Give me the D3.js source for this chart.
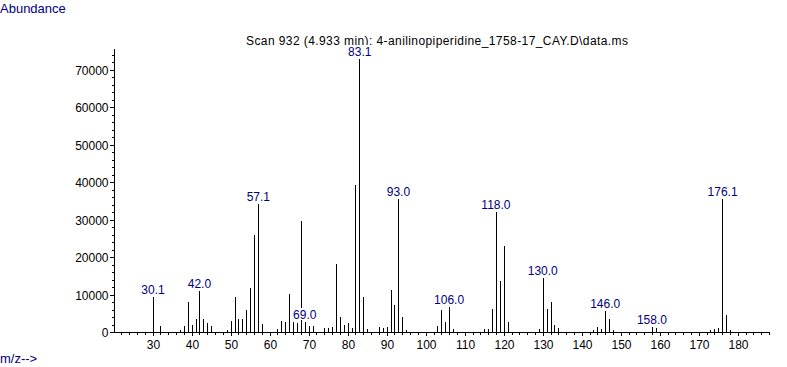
<!DOCTYPE html>
<html lang="en">
<head>
<meta charset="UTF-8">
<title>Scan 932 - 4-anilinopiperidine</title>
<script src="https://d3js.org/d3.v7.min.js"></script>
<style>
  body { margin: 0; background: #fff; font-family: 'Liberation Sans', Arial, sans-serif; }
  text { font-family: 'Liberation Sans', Arial, sans-serif; }
  .axis path, .axis line { stroke: #000; shape-rendering: crispEdges; }
  .axis text { font-size: 12px; fill: #000; }
</style>
</head>
<body>
<div id="chart"></div>
<script>
  // spectrum: m/z and abundance
  const mz = [30, 32, 37, 38, 39, 40, 41, 42, 43, 44, 45, 49, 50, 51, 52, 53, 54, 55, 56, 57, 58,
    62, 63, 64, 65, 66, 67, 68, 69, 70, 71, 74, 75, 76, 77, 78, 79, 80, 81, 82, 83, 84, 85,
    88, 89, 90, 91, 92, 93, 94, 95, 103, 104, 105, 106, 107, 115, 116, 117, 118, 119, 120, 121,
    129, 130, 131, 132, 133, 134, 143, 144, 145, 146, 147, 148, 158, 159, 173, 174, 175, 176, 177, 178];
  const abundance = [9430, 1600, 530, 1680, 8010, 1870, 3470, 10950, 3470, 2400, 1680, 530, 2940, 9430, 3470, 3470, 5960, 11840, 25900, 34200, 2140,
    720, 2940, 2670, 10150, 2670, 2400, 29700, 2590, 1680, 1680, 990, 990, 1340, 18170, 4090, 2000, 2460, 1150, 39350, 72800, 9430, 800,
    1340, 1150, 1420, 11300, 7210, 35580, 4090, 530, 1680, 5880, 2670, 6760, 800, 800, 800, 6150, 32070, 13700, 23060, 2670,
    720, 14500, 6150, 8100, 1950, 1150, 530, 1420, 800, 5690, 3470, 530, 1420, 990, 530, 800, 1070, 35660, 4540, 530];

  // labelled peaks
  const peakLabels = ["30.1", "42.0", "57.1", "69.0", "83.1", "93.0", "106.0", "118.0", "130.0", "146.0", "158.0", "176.1"];

  const xMajorTicks = d3.range(30, 181, 10);
  const xMinorTicks = d3.range(22, 189, 2);
  const yMajorTicks = d3.range(0, 70001, 10000);
  const yMinorTicks = d3.range(0, 75000, 2000);

  const title = "Scan 932 (4.933 min): 4-anilinopiperidine_1758-17_CAY.D\\data.ms";

  const width = 787, height = 367;
  const navy = "#000080";

  const svg = d3.select("#chart").append("svg")
      .attr("width", width)
      .attr("height", height);

  const x = d3.scaleLinear().domain([20.1, 188.0]).range([114, 769]);
  const y = d3.scaleLinear().domain([0, 75600]).range([332, 49]);

  const px = v => Math.round(x(v)) + 0.5;

  // axes: minor ticks first, then the labelled major ones
  const gx = svg.append("g").attr("class", "axis").attr("transform", "translate(0,331.5)");
  gx.call(d3.axisBottom(x).tickValues(xMinorTicks).tickSize(3).tickSizeOuter(0).tickFormat(""));
  gx.append("g").call(d3.axisBottom(x).tickValues(xMajorTicks).tickSize(4).tickSizeOuter(0).tickFormat(d3.format("d")))
    .call(g => g.select(".domain").remove());
  gx.selectAll(".tick").attr("transform", function(d) { return `translate(${px(d)},0)`; });
  gx.selectAll(".tick text").attr("y", 17).attr("dy", 0);

  const gy = svg.append("g").attr("class", "axis").attr("transform", "translate(114.5,0)");
  gy.call(d3.axisLeft(y).tickValues(yMinorTicks).tickSize(3).tickSizeOuter(0).tickFormat(""));
  gy.append("g").call(d3.axisLeft(y).tickValues(yMajorTicks).tickSize(5).tickSizeOuter(0).tickFormat(d3.format("d")))
    .call(g => g.select(".domain").remove());
  gy.selectAll(".tick").attr("transform", function(d) { return `translate(0,${Math.round(y(d)) + 0.5})`; });
  gy.selectAll(".tick text").attr("x", -6).attr("dy", "0.36em");
  gy.select(".domain").attr("d", `M0,${y.range()[1]}V${y.range()[0]}`);

  // peaks as thin sticks
  const peaks = mz.map((m, i) => ({ mz: m, value: abundance[i] }));
  svg.append("g")
    .selectAll("line")
    .data(peaks)
    .enter().append("line")
      .attr("x1", d => px(d.mz))
      .attr("x2", d => px(d.mz))
      .attr("y1", y(0))
      .attr("y2", d => Math.round(y(d.value)))
      .attr("stroke", "#000")
      .attr("stroke-width", 1)
      .style("shape-rendering", "crispEdges");

  // title (drawn before the peak labels, which sit on white boxes)
  svg.append("text")
    .attr("x", 246)
    .attr("y", 45)
    .attr("textLength", 382)
    .attr("lengthAdjust", "spacing")
    .style("font-size", "12px")
    .style("fill", "#000")
    .text(title);

  const labelG = svg.append("g")
    .selectAll("g")
    .data(peakLabels)
    .enter().append("g");

  labelG.each(function(lbl) {
    const m = +lbl;
    const peak = peaks.find(p => p.mz === Math.round(m));
    const base = Math.round(y(peak.value)) - 3;
    const g = d3.select(this);
    const t = g.append("text")
      .attr("x", x(m))
      .attr("y", base)
      .attr("text-anchor", "middle")
      .style("font-size", "12px")
      .style("fill", navy)
      .text(lbl);
    const bb = t.node().getBBox();
    g.insert("rect", "text")
      .attr("x", bb.x)
      .attr("y", base - 11)
      .attr("width", bb.width)
      .attr("height", 12)
      .attr("fill", "#fff");
  });

  svg.append("text")
    .attr("x", 0)
    .attr("y", 13)
    .style("font-size", "13px")
    .style("fill", navy)
    .text("Abundance");

  svg.append("text")
    .attr("x", 0)
    .attr("y", 363)
    .style("font-size", "13px")
    .style("fill", navy)
    .text("m/z-->");
</script>
</body>
</html>
